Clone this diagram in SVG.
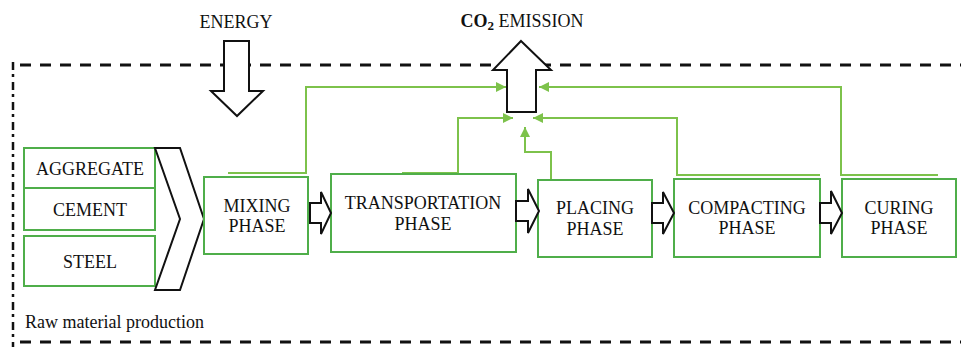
<svg xmlns="http://www.w3.org/2000/svg" width="961" height="347" viewBox="0 0 961 347">
<style>
.t{font-family:'Liberation Serif','DejaVu Serif',serif;font-size:18px;fill:#111;text-anchor:middle}
.box{fill:#fff;stroke:#4fae4a;stroke-width:2}
.ln{fill:none;stroke:#7dc24b;stroke-width:2}
.blk{fill:#fff;stroke:#111;stroke-width:2;stroke-linejoin:miter}
.dash{fill:none;stroke:#111;stroke-width:3;stroke-dasharray:11 9}
</style>
<defs>
<marker id="ah" viewBox="0 0 10 10" refX="10" refY="5" markerWidth="10" markerHeight="10" markerUnits="userSpaceOnUse" orient="auto">
<path d="M0,0 L10,5 L0,10 z" fill="#7dc24b"/>
</marker>
</defs>
<rect width="961" height="347" fill="#fff"/>
<g id="frame">
<line class="dash" x1="20" y1="65" x2="961" y2="65"/>
<line class="dash" x1="20" y1="342" x2="961" y2="342"/>
<line x1="13" y1="62" x2="13" y2="347" stroke="#111" stroke-width="2.5" stroke-dasharray="8 4 3 5"/>
</g>
<g id="connectors">
<path class="ln" d="M228,173 H306 V87 H506" marker-end="url(#ah)"/>
<path class="ln" d="M938,175 H841 V87 H539" marker-end="url(#ah)"/>
<path class="ln" d="M402,173 H458 V118 H513" marker-end="url(#ah)"/>
<path class="ln" d="M820,175 H677 V118 H533" marker-end="url(#ah)"/>
<path class="ln" d="M551,180 V152 H525 V127" marker-end="url(#ah)"/>
</g>
<g id="energy">
<text class="t" x="236" y="28" font-family="Liberation Serif, serif">ENERGY</text>
<path class="blk" d="M224,41 H249 V91 H263 L237,116 L211,91 H224 Z"/>
</g>
<g id="co2">
<text class="t" x="522" y="27"><tspan font-weight="bold">CO</tspan><tspan font-weight="bold" font-size="13" dy="3">2</tspan><tspan dy="-3"> EMISSION</tspan></text>
<path class="blk" d="M521,41 L551,70 H536 V112 H507 V70 H493 Z"/>
</g>
<g id="aggregate">
<rect class="box" x="24" y="148" width="131" height="40"/>
<text class="t" x="90" y="175" font-size="16.5">AGGREGATE</text>
</g>
<g id="cement">
<rect class="box" x="24" y="188" width="131" height="42"/>
<text class="t" x="90" y="216">CEMENT</text>
</g>
<g id="steel">
<rect class="box" x="24" y="236" width="131" height="50"/>
<text class="t" x="90" y="268">STEEL</text>
</g>
<g id="chevron">
<path class="blk" d="M155,148 H180 L204,219 L180,290 H155 L180,219 Z"/>
</g>
<g id="mixing">
<rect class="box" x="204" y="177" width="104" height="77"/>
<text class="t" x="257" y="212">MIXING</text>
<text class="t" x="257" y="232">PHASE</text>
</g>
<g id="transportation">
<rect class="box" x="331" y="174" width="185" height="78"/>
<text class="t" x="423" y="209" font-size="16.5">TRANSPORTATION</text>
<text class="t" x="423" y="230">PHASE</text>
</g>
<g id="placing">
<rect class="box" x="538" y="180" width="114" height="77"/>
<text class="t" x="595" y="214">PLACING</text>
<text class="t" x="595" y="235">PHASE</text>
</g>
<g id="compacting">
<rect class="box" x="674" y="179" width="146" height="78"/>
<text class="t" x="747" y="214" font-size="16.5">COMPACTING</text>
<text class="t" x="747" y="234">PHASE</text>
</g>
<g id="curing">
<rect class="box" x="842" y="179" width="114" height="78"/>
<text class="t" x="899" y="214">CURING</text>
<text class="t" x="899" y="234">PHASE</text>
</g>
<g id="flow-arrows">
<path class="blk" d="M310,203 H321 V192 L331,213 L321,234 V223 H310 Z"/>
<path class="blk" d="M516,201 H528 V189 L539,211 L528,233 V221 H516 Z"/>
<path class="blk" d="M652,203 H663 V192 L674,213 L663,234 V223 H652 Z"/>
<path class="blk" d="M820,203 H831 V191 L842,213 L831,234 V223 H820 Z"/>
</g>
<g id="label">
<text class="t" x="25" y="328" style="text-anchor:start">Raw material production</text>
</g>
</svg>
